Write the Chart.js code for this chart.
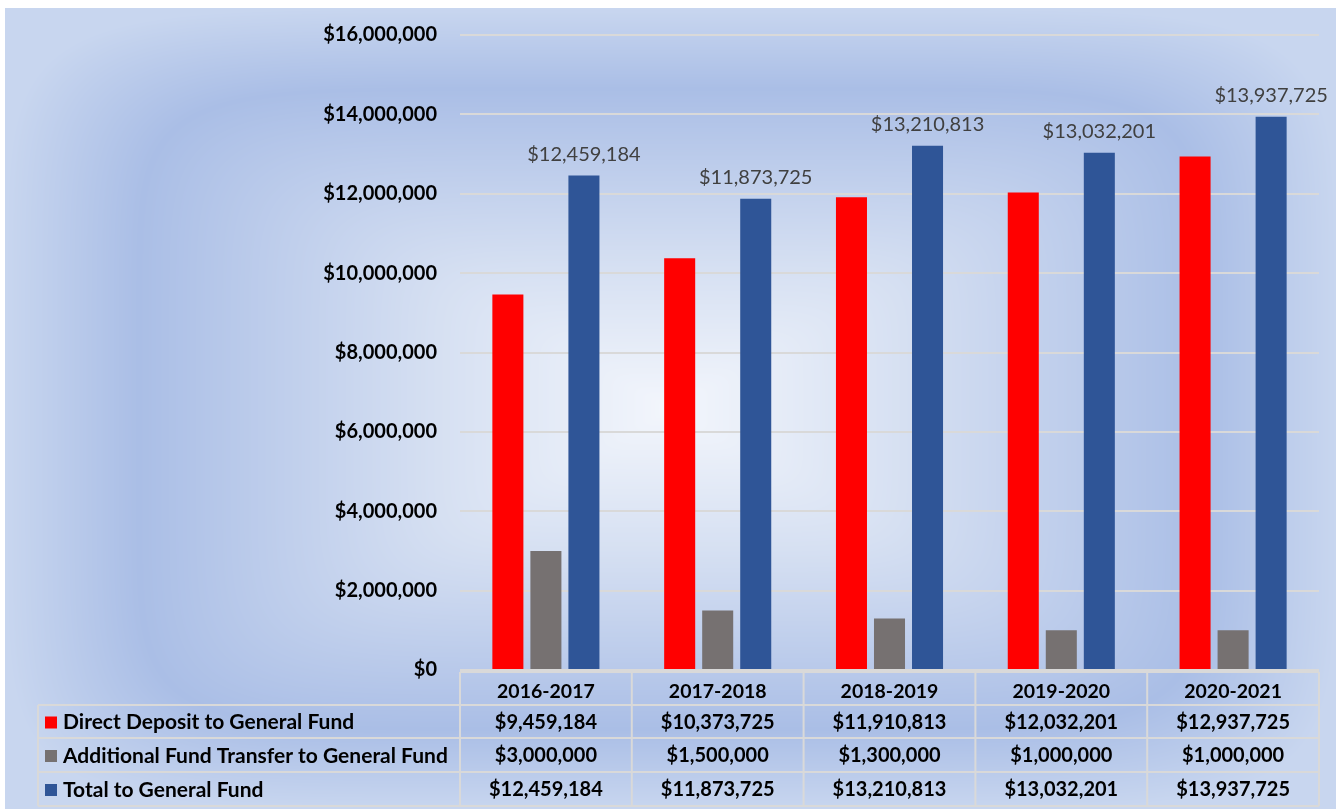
<!DOCTYPE html>
<html>
<head>
<meta charset="utf-8">
<script src="https://cdn.jsdelivr.net/npm/chart.js@4.4.1/dist/chart.umd.min.js"></script>
<style>
  html, body { margin: 0; padding: 0; background: #ffffff; }
  #wrap { width: 1336px; height: 809px; }
</style>
</head>
<body>
<div id="wrap"><canvas id="fundChart" width="1336" height="809"></canvas></div>
<script>
const years = ['2016-2017', '2017-2018', '2018-2019', '2019-2020', '2020-2021'];
const directDeposit = [9459184, 10373725, 11910813, 12032201, 12937725];
const additionalTransfer = [3000000, 1500000, 1300000, 1000000, 1000000];
const totalFund = [12459184, 11873725, 13210813, 13032201, 13937725];
const seriesNames = ['Direct Deposit to General Fund', 'Additional Fund Transfer to General Fund', 'Total to General Fund'];
const seriesColors = ['#ff0000', '#767171', '#2f5597'];
const yTicks = { min: 0, max: 16000000, step: 2000000 };

const FONT = 'Lato, "Open Sans", sans-serif';
const money = v => '$' + Math.round(v).toLocaleString('en-US');

// office-style rectangular gradient behind everything
const bgPlugin = {
  id: 'bg',
  beforeDraw(chart) {
    const ctx = chart.ctx;
    const x0 = 5, y0 = 8, w = chart.width - x0, h = chart.height - y0;
    const img = ctx.createImageData(w, h);
    const cx = w / 2, cy = h / 2;
    const stops = [
      [0, [243, 246, 252]],
      [0.35, [214, 224, 242]],
      [0.8, [170, 190, 230]],
      [1, [200, 214, 239]]
    ];
    for (let y = 0; y < h; y++) {
      for (let x = 0; x < w; x++) {
        const dx = Math.abs(x - cx) / cx, dy = Math.abs(y - cy) / cy;
        let t = Math.pow(Math.pow(dx, 7) + Math.pow(dy, 7), 1 / 7);
        if (t > 1) t = 1;
        let k = 1;
        while (k < stops.length - 1 && t > stops[k][0]) k++;
        const a = stops[k - 1], b = stops[k];
        const f = (t - a[0]) / (b[0] - a[0]);
        const i = (y * w + x) * 4;
        img.data[i] = a[1][0] + (b[1][0] - a[1][0]) * f;
        img.data[i + 1] = a[1][1] + (b[1][1] - a[1][1]) * f;
        img.data[i + 2] = a[1][2] + (b[1][2] - a[1][2]) * f;
        img.data[i + 3] = 255;
      }
    }
    ctx.putImageData(img, x0, y0);
  }
};

// value labels over the total bars
const totalLabels = {
  id: 'totalLabels',
  afterDatasetsDraw(chart) {
    const ctx = chart.ctx;
    const meta = chart.getDatasetMeta(2);
    ctx.save();
    ctx.font = '20px ' + FONT;
    ctx.fillStyle = '#404040';
    ctx.textAlign = 'center';
    ctx.textBaseline = 'middle';
    meta.data.forEach((bar, i) => {
      ctx.fillText(money(totalFund[i]), bar.x, bar.y - 21);
    });
    ctx.restore();
  }
};

// data table under the plot
const dataTable = {
  id: 'dataTable',
  afterDraw(chart) {
    const ctx = chart.ctx;
    const xs = chart.scales.x;
    const left = xs.left, right = xs.right;
    const colW = (right - left) / years.length;
    const tableLeft = 38;
    const lines = [672, 705, 738, 772, 806];
    const rows = [directDeposit, additionalTransfer, totalFund];
    ctx.save();
    ctx.strokeStyle = '#d9d9d9';
    ctx.lineWidth = 2;
    ctx.beginPath();
    ctx.moveTo(left, lines[0]); ctx.lineTo(right, lines[0]);
    for (let r = 1; r < lines.length; r++) {
      ctx.moveTo(tableLeft, lines[r]); ctx.lineTo(right, lines[r]);
    }
    for (let c = 0; c <= years.length; c++) {
      ctx.moveTo(left + c * colW, lines[0]); ctx.lineTo(left + c * colW, lines[4]);
    }
    ctx.moveTo(tableLeft, lines[1]); ctx.lineTo(tableLeft, lines[4]);
    ctx.stroke();

    ctx.textBaseline = 'middle';
    rows.forEach((vals, r) => {
      const yc = (lines[r + 1] + lines[r + 2]) / 2 + 1;
      ctx.fillStyle = seriesColors[r];
      ctx.fillRect(45, yc - 6, 12, 12);
      ctx.fillStyle = '#000000';
      ctx.textAlign = 'left';
      ctx.font = 'bold 21px ' + FONT;
      ctx.fillText(seriesNames[r], 63, yc);
      ctx.textAlign = 'center';
      ctx.font = 'bold 20px ' + FONT;
      vals.forEach((v, i) => {
        ctx.fillText(money(v), xs.getPixelForValue(i), yc);
      });
    });
    ctx.restore();
  }
};

new Chart(document.getElementById('fundChart'), {
  type: 'bar',
  data: {
    labels: years,
    datasets: [
      { label: seriesNames[0], data: directDeposit, backgroundColor: seriesColors[0] },
      { label: seriesNames[1], data: additionalTransfer, backgroundColor: seriesColors[1] },
      { label: seriesNames[2], data: totalFund, backgroundColor: seriesColors[2] }
    ]
  },
  options: {
    responsive: false,
    animation: false,
    categoryPercentage: 0.664,
    barPercentage: 0.816,
    layout: { padding: { top: 30, right: 17, left: 0, bottom: 0 } },
    plugins: {
      legend: { display: false },
      tooltip: { enabled: false },
      title: { display: false }
    },
    scales: {
      x: {
        grid: { display: false },
        border: { display: false },
        ticks: {
          color: '#000000',
          padding: 2,
          font: { family: FONT, size: 19.5, weight: 'bold' }
        },
        afterFit: s => { s.height = 139; }
      },
      y: {
        min: yTicks.min,
        max: yTicks.max,
        grid: { color: '#d9d9d9', lineWidth: 2, drawTicks: false },
        border: { display: false },
        ticks: {
          stepSize: yTicks.step,
          padding: 23,
          color: '#000000',
          font: { family: FONT, size: 20, weight: 'bold' },
          callback: v => money(v)
        },
        afterFit: s => { s.width = 460; }
      }
    }
  },
  plugins: [bgPlugin, totalLabels, dataTable]
});
</script>
</body>
</html>
